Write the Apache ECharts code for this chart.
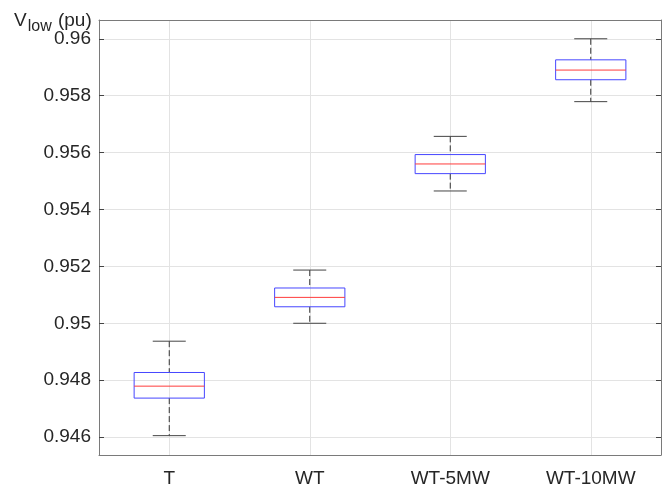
<!DOCTYPE html>
<html>
<head>
<meta charset="utf-8">
<script src="https://cdn.jsdelivr.net/npm/echarts@6/dist/echarts.min.js"></script>
<style>
  html, body { margin: 0; padding: 0; background: #fff; }
  #chart { width: 666px; height: 491px; }
</style>
</head>
<body>
<div id="chart"></div>
<script>
// categories and box statistics (pu)
const categories = ['T', 'WT', 'WT-5MW', 'WT-10MW'];
const lowerWhisker = [0.94605, 0.95000, 0.95465, 0.95779];
const quartile1 = [0.94737, 0.95058, 0.95526, 0.95856];
const median = [0.94779, 0.95091, 0.95560, 0.95890];
const quartile3 = [0.94827, 0.95124, 0.95593, 0.95926];
const upperWhisker = [0.94937, 0.95187, 0.95657, 0.96000];
const yTicks = [0.946, 0.948, 0.95, 0.952, 0.954, 0.956, 0.958, 0.96];

const font = 'Liberation Sans, Arial, sans-serif';
const textColor = '#262626';
const frameColor = '#7a7a7a';

const boxData = categories.map((c, i) =>
  [i, lowerWhisker[i], quartile1[i], median[i], quartile3[i], upperWhisker[i]]);

function renderBox(params, api) {
  const x = api.value(0);
  const lo = api.coord([x, api.value(1)]);
  const q1 = api.coord([x, api.value(2)]);
  const md = api.coord([x, api.value(3)]);
  const q3 = api.coord([x, api.value(4)]);
  const hi = api.coord([x, api.value(5)]);
  const band = api.size([1, 0])[0];
  const bw = band * 0.5;
  const cw = bw * 0.47;
  const cx = lo[0];
  const dash = { stroke: '#333', lineWidth: 1, lineDash: [6, 3] };
  const cap = { stroke: '#444', lineWidth: 1 };
  return {
    type: 'group',
    children: [
      { type: 'line', shape: { x1: cx, y1: hi[1], x2: cx, y2: q3[1] }, style: dash },
      { type: 'line', shape: { x1: cx, y1: q1[1], x2: cx, y2: lo[1] }, style: dash },
      { type: 'line', shape: { x1: cx - cw / 2, y1: hi[1], x2: cx + cw / 2, y2: hi[1] }, style: cap },
      { type: 'line', shape: { x1: cx - cw / 2, y1: lo[1], x2: cx + cw / 2, y2: lo[1] }, style: cap },
      { type: 'rect', shape: { x: cx - bw / 2, y: q3[1], width: bw, height: q1[1] - q3[1] },
        style: { fill: 'none', stroke: '#4646ff', lineWidth: 1 } },
      { type: 'line', shape: { x1: cx - bw / 2, y1: md[1], x2: cx + bw / 2, y2: md[1] },
        style: { stroke: '#ff3c3c', lineWidth: 1 } }
    ]
  };
}

const chart = echarts.init(document.getElementById('chart'));
chart.setOption({
  animation: false,
  backgroundColor: '#fff',
  title: {
    text: '{v|V}{s|low}{v| (pu)}',
    left: 9,
    top: 2,
    textStyle: {
      fontWeight: 'normal',
      rich: {
        v: { fontFamily: font, fontSize: 19, fontWeight: 'normal', color: textColor },
        s: { fontFamily: font, fontSize: 16, fontWeight: 'normal', color: textColor, padding: [12, 1, 0, 1] }
      }
    }
  },
  grid: { left: 99, right: 5, top: 20, bottom: 36, containLabel: false },
  xAxis: [{
    type: 'category',
    data: categories,
    boundaryGap: true,
    axisLine: { lineStyle: { color: frameColor, width: 1 } },
    axisTick: { alignWithLabel: true, inside: true, length: 5, lineStyle: { color: '#444' } },
    axisLabel: { fontFamily: font, fontSize: 19, color: textColor, margin: 14 },
    splitLine: { show: true, alignWithLabel: true, lineStyle: { color: '#e3e3e3' } }
  }, {
    type: 'category',
    data: categories,
    position: 'top',
    boundaryGap: true,
    axisLine: { lineStyle: { color: frameColor, width: 1 } },
    axisTick: { alignWithLabel: true, inside: true, length: 5, lineStyle: { color: '#444' } },
    axisLabel: { show: false },
    splitLine: { show: false }
  }],
  yAxis: [{
    type: 'value',
    min: 0.94537,
    max: 0.96066,
    axisLine: { show: true, lineStyle: { color: frameColor, width: 1 } },
    axisTick: { show: true, inside: true, length: 5, customValues: yTicks, lineStyle: { color: '#444' } },
    axisLabel: { fontFamily: font, fontSize: 19, color: textColor, margin: 8, customValues: yTicks },
    splitLine: { show: true, lineStyle: { color: '#e3e3e3' } }
  }, {
    type: 'value',
    position: 'right',
    min: 0.94537,
    max: 0.96066,
    axisLine: { show: true, lineStyle: { color: frameColor, width: 1 } },
    axisTick: { show: true, inside: true, length: 5, customValues: yTicks, lineStyle: { color: '#444' } },
    axisLabel: { show: false, customValues: yTicks },
    splitLine: { show: false }
  }],
  series: [{
    type: 'custom',
    xAxisIndex: 0,
    yAxisIndex: 0,
    renderItem: renderBox,
    encode: { x: 0, y: [1, 2, 3, 4, 5] },
    data: boxData,
    z: 10
  }]
});
</script>
</body>
</html>
